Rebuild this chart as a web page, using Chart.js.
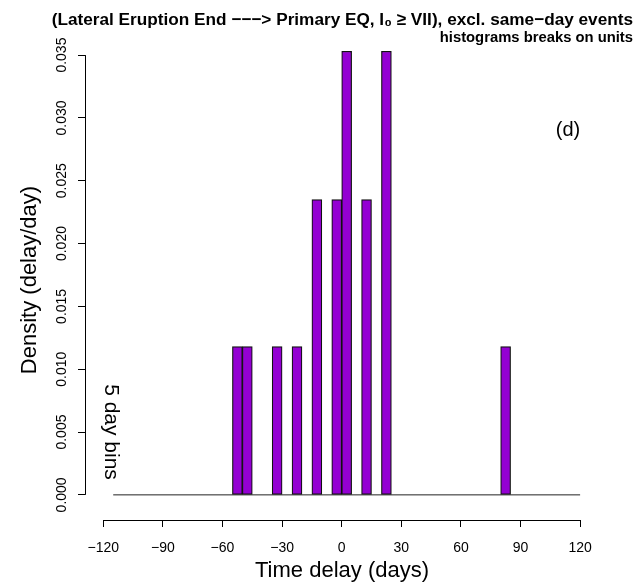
<!DOCTYPE html>
<html>
<head>
<meta charset="utf-8">
<script src="https://cdn.jsdelivr.net/npm/chart.js@4"></script>
<style>
  body { margin: 0; background: #fff; }
  #wrap { width: 638px; height: 582px; }
</style>
</head>
<body>
<div id="wrap"><canvas id="myChart" width="638" height="582"></canvas></div>
<script>
// histogram bins (5 day width), centre of each non-empty bin
const binCenters = [-52.5, -47.5, -32.5, -22.5, -12.5, -2.5, 2.5, 12.5, 22.5, 82.5];
const densities = [0.0118, 0.0118, 0.0118, 0.0118, 0.0235, 0.0235, 0.0353, 0.0235, 0.0353, 0.0118];
// full extent of the breaks (bottom line of the histogram)
const breaksRange = [-115, 120];
const xTicks = [-120, -90, -60, -30, 0, 30, 60, 90, 120];
const yTicks = [0, 0.005, 0.01, 0.015, 0.02, 0.025, 0.03, 0.035];

const titleText = '(Lateral Eruption End \u2212\u2212\u2212> Primary EQ, I\u2080 \u2265 VII), excl. same\u2212day events';
const subTitleText = 'histograms breaks on units';

const FONT = '"Liberation Sans", Arial, Helvetica, sans-serif';

// R style axes + extra texts
const rAxes = {
  id: 'rAxes',
  afterDraw(chart) {
    const ctx = chart.ctx;
    const x = chart.scales.x, y = chart.scales.y;
    const area = chart.chartArea;
    ctx.save();
    ctx.strokeStyle = '#000';
    ctx.lineWidth = 1;
    ctx.beginPath();
    ctx.moveTo(x.getPixelForValue(xTicks[0]), area.bottom + 0.5);
    ctx.lineTo(x.getPixelForValue(xTicks[xTicks.length - 1]), area.bottom + 0.5);
    ctx.moveTo(area.left + 0.5, y.getPixelForValue(yTicks[0]));
    ctx.lineTo(area.left + 0.5, y.getPixelForValue(yTicks[yTicks.length - 1]));
    ctx.stroke();

    // y tick labels, rotated like R's default las=0
    ctx.fillStyle = '#000';
    ctx.font = '14px ' + FONT;
    ctx.textAlign = 'center';
    ctx.textBaseline = 'middle';
    yTicks.forEach(v => {
      ctx.save();
      ctx.translate(62, y.getPixelForValue(v));
      ctx.rotate(-Math.PI / 2);
      ctx.fillText(v.toFixed(3), 0, 0);
      ctx.restore();
    });

    // panel letter
    ctx.font = '20px ' + FONT;
    ctx.fillText('(d)', 568, 130);

    // bin note
    ctx.save();
    ctx.translate(111, 432);
    ctx.rotate(Math.PI / 2);
    ctx.font = '21px ' + FONT;
    ctx.fillText('5 day bins', 0, 0);
    ctx.restore();

    // titles
    ctx.textAlign = 'right';
    ctx.font = 'bold 17.2px ' + FONT;
    ctx.fillText(titleText, 633, 20);
    ctx.font = 'bold 14.8px ' + FONT;
    ctx.fillText(subTitleText, 633, 38);
    ctx.restore();
  }
};

const ctx = document.getElementById('myChart').getContext('2d');
new Chart(ctx, {
  type: 'bar',
  data: {
    datasets: [{
      type: 'line',
      data: breaksRange.map(v => ({ x: v, y: 0 })),
      borderColor: '#222',
      borderWidth: 1,
      pointRadius: 0,
      order: 2
    }, {
      data: binCenters.map((c, i) => ({ x: c, y: densities[i] })),
      backgroundColor: '#9400D3',
      borderColor: '#111',
      borderWidth: 1.2,
      borderSkipped: false,
      categoryPercentage: 1,
      barPercentage: 1,
      order: 1
    }]
  },
  options: {
    responsive: false,
    animation: false,
    layout: { padding: { top: 40, right: 39, left: 0, bottom: 0 } },
    plugins: {
      legend: { display: false },
      tooltip: { enabled: false }
    },
    scales: {
      x: {
        type: 'linear',
        min: -129.2,
        max: 129.5,
        offset: false,
        afterBuildTicks: s => { s.ticks = xTicks.map(v => ({ value: v })); },
        afterFit: s => { s.height = 62; },
        border: { display: false },
        grid: { drawOnChartArea: false, drawTicks: true, tickLength: 7, color: '#000', offset: false },
        ticks: {
          color: '#000',
          padding: 13,
          maxRotation: 0,
          font: { family: FONT, size: 14 },
          callback: v => String(v).replace('-', '\u2212')
        },
        title: {
          display: true,
          text: 'Time delay (days)',
          color: '#000',
          font: { family: FONT, size: 22, lineHeight: 1 },
          padding: { top: 0, bottom: 0 }
        }
      },
      y: {
        min: -0.002,
        max: 0.0362,
        afterBuildTicks: s => { s.ticks = yTicks.map(v => ({ value: v })); },
        afterFit: s => { s.width = 85; },
        border: { display: false },
        grid: { drawOnChartArea: false, drawTicks: true, tickLength: 7, color: '#000' },
        ticks: { display: false },
        title: {
          display: true,
          text: 'Density (delay/day)',
          color: '#000',
          font: { family: FONT, size: 22, lineHeight: 1 },
          padding: { top: 19, bottom: 0 }
        }
      }
    }
  },
  plugins: [rAxes]
});
</script>
</body>
</html>
